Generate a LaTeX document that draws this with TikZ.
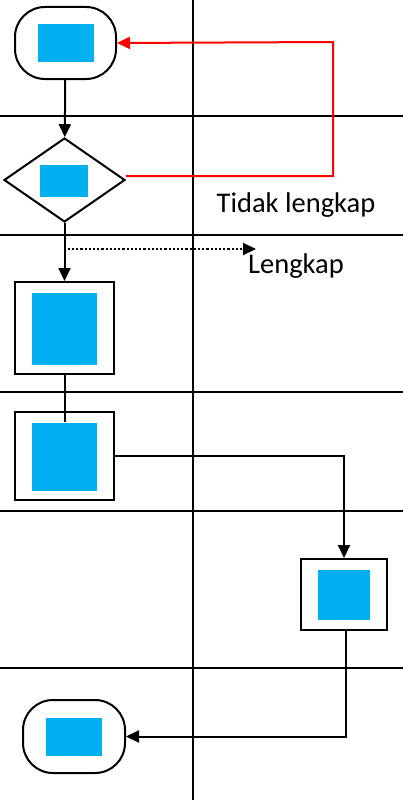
\documentclass[tikz,border=0pt]{standalone}
\usepackage{fontspec}
\setmainfont{Carlito}
\usetikzlibrary{arrows.meta,shapes.geometric}
\definecolor{boxblue}{HTML}{00B0F0}

\begin{document}
\begin{tikzpicture}[x=1pt,y=-1pt,>={Triangle[length=13pt,width=12pt]},line width=2pt,
  lane/.style={line width=2pt},
  term/.style={draw,rounded corners=30pt,minimum width=101pt,minimum height=72pt,inner sep=0pt},
  proc/.style={draw,minimum width=99pt,minimum height=92pt,inner sep=0pt},
  choice/.style={draw,diamond,aspect=1.44,minimum width=121pt,minimum height=84pt,inner sep=0pt},
  fillbox/.style={fill=boxblue,minimum width=#1,inner sep=0pt},
  lbl/.style={font=\fontsize{28.5}{32}\selectfont}]
  \useasboundingbox (0,0) rectangle (403,800);

  % lanes
  \foreach \ly in {116,235,392,511,668}
    \draw[lane] (0,\ly) -- (403,\ly);
  \draw[line width=1.2pt] (193,0) -- (193,668);
  \draw[line width=2pt] (193,668) -- (193,800);

  % shapes
  \node[term] (start) at (65.5,43) {};
  \node[fillbox=56pt,minimum height=38pt] (startin) at (66,43) {};
  \node[choice] (check) at (64.5,180) {};
  \node[fillbox=48pt,minimum height=32pt] (checkin) at (64,181) {};
  \node[proc] (p1) at (64.5,328) {};
  \node[fillbox=65pt,minimum height=72pt] (p1in) at (64.5,329) {};
  \node[proc,minimum height=88pt] (p2) at (64.5,456) {};
  \node[fillbox=65pt,minimum height=68pt] (p2in) at (64.5,457) {};
  \node[proc,minimum width=86pt,minimum height=71pt] (p3) at (344,594.5) {};
  \node[fillbox=52pt,minimum height=50pt] (p3in) at (344,595) {};
  \node[term,minimum width=102pt,minimum height=73pt] (stop) at (74,736.5) {};
  \node[fillbox=56pt,minimum height=38pt] (stopin) at (74,737) {};

  \node[lbl] (tidak) at (296,205) {Tidak lengkap};
  \node[lbl] (lengkap) at (296,266) {Lengkap};

  \coordinate (back) at (333,42);
  \coordinate (split) at (63.5,249);
  \coordinate (okend) at (256,249);

  % connectors
  \draw[->] (start) -- (check);
  \draw[->,red] ([yshift=4pt]check.east) -| (back) -- (start.east);
  \draw[->] (check) -- (p1);
  \draw[->,dotted,line width=2.2pt] (split) -- (okend);
  \draw (p1) -- (p2in.north);
  \draw[->] (p2.east) -| (p3.north);
  \draw[->] ([xshift=2pt]p3.south) |- (stop.east);
\end{tikzpicture}
\end{document}
